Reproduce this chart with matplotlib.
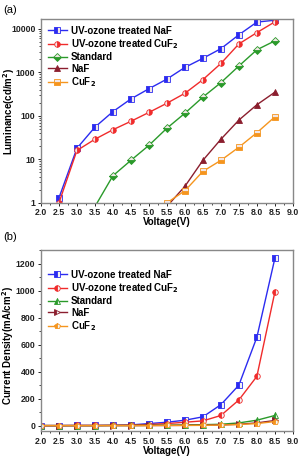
import matplotlib
matplotlib.use('Agg')
import matplotlib.pyplot as plt
from matplotlib.ticker import NullFormatter, MultipleLocator

plt.rcParams['font.family'] = ['Liberation Sans', 'DejaVu Sans']
plt.rcParams['font.weight'] = 'bold'
plt.rcParams['mathtext.default'] = 'bf'

voltage = [2.0, 2.5, 3.0, 3.5, 4.0, 4.5, 5.0, 5.5, 6.0, 6.5, 7.0, 7.5, 8.0, 8.5]
labels = ['UV-ozone treated NaF', 'UV-ozone treated CuF$_2$', 'Standard', 'NaF', 'CuF$_2$']
colors = ['#2b2bf0', '#f02b2b', '#2a9a2a', '#8b1e2e', '#f5951e']

# (a) luminance, starting voltages differ
lum_v = [voltage[1:], voltage[1:], voltage[3:], voltage[7:], voltage[7:]]
lum = [
    [1.3, 18, 55, 125, 245, 420, 700, 1300, 2100, 3500, 7300, 14300, 15800],
    [1.0, 16, 29, 48, 75, 120, 195, 330, 680, 1600, 4500, 8200, 14500],
    [0.82, 4.2, 9.5, 21, 52, 115, 270, 580, 1400, 3300, 5300],
    [0.83, 2.4, 9.5, 29, 80, 180, 350],
    [1.0, 1.9, 5.3, 9.5, 19, 41, 95],
]

# (b) current density
cur = [
    [0, 0, 1, 1, 2, 5, 15, 25, 40, 65, 155, 300, 655, 1240],
    [0, 0, 1, 1, 2, 4, 8, 15, 25, 35, 75, 190, 365, 990],
    [0, 0, 0, 0, 1, 1, 2, 3, 5, 7, 10, 20, 40, 75],
    [0, 0, 0, 0, 0, 0, 1, 1, 2, 3, 5, 10, 20, 38],
    [0, 0, 0, 0, 0, 0, 0, 1, 1, 2, 4, 8, 15, 30],
]

markers_a = ['s', 'o', 'D', '^', 's']
markers_b = ['s', 'o', '^', '>', 'p']
fills_a = ['left', 'right', 'bottom', 'full', 'bottom']

fig = plt.figure(figsize=(3.01, 4.59), dpi=100)
ax1 = fig.add_axes([0.136, 0.558, 0.837, 0.401])
ax2 = fig.add_axes([0.136, 0.061, 0.837, 0.394])

for i in range(5):
    ax1.plot(lum_v[i], lum[i], color=colors[i], lw=1, marker=markers_a[i],
             ms=4, mfc=colors[i], mec=colors[i], mew=0.6, fillstyle=fills_a[i],
             markerfacecoloralt='#f2e6e6', label=labels[i])
    ax2.plot(voltage, cur[i], color=colors[i], lw=1, marker=markers_b[i],
             ms=4, mfc=colors[i], mec=colors[i], mew=0.6, fillstyle='left',
             markerfacecoloralt='#f2f2f2', label=labels[i])

ax1.set_yscale('log')
ax1.set_ylim(1, 17000)
ax1.set_yticks([1, 10, 100, 1000, 10000])
ax1.set_yticklabels(['1', '10', '100', '1000', '10000'])
ax1.yaxis.set_minor_formatter(NullFormatter())
ax1.set_ylabel('Luminance(cd/m$^2$)', fontsize=7, fontweight='bold', va='center')
ax1.yaxis.set_label_coords(-0.126, 0.5)

ax2.set_ylim(-40, 1300)
ax2.set_yticks([0, 200, 400, 600, 800, 1000, 1200])
ax2.yaxis.set_minor_locator(MultipleLocator(100))
ax2.set_ylabel('Current Density(mA/cm$^2$)', fontsize=7, fontweight='bold', va='center')
ax2.yaxis.set_label_coords(-0.129, 0.47)

xt = [2.0, 2.5, 3.0, 3.5, 4.0, 4.5, 5.0, 5.5, 6.0, 6.5, 7.0, 7.5, 8.0, 8.5, 9.0]
for ax in (ax1, ax2):
    ax.set_xlim(2.0, 9.0)
    ax.set_xticks(xt)
    ax.set_xticklabels(['%.1f' % v for v in xt])
    ax.xaxis.set_minor_locator(MultipleLocator(0.25))
    ax.set_xlabel('Voltage(V)', fontsize=7, fontweight='bold', labelpad=0)
    ax.tick_params(labelsize=6.3, length=2.5, width=0.7, pad=1.5, colors='#222222')
    ax.tick_params(which='minor', length=1.5, width=0.5)
    for s in ax.spines.values():
        s.set_color('#888888')
        s.set_linewidth(1)
    ax.legend(loc='upper left', frameon=False, fontsize=7, handlelength=2.0,
              handletextpad=0.4, labelspacing=0.15, borderaxespad=0.3,
              bbox_to_anchor=(0.0, 1.0) if ax is ax1 else (0.0, 0.93))

fig.text(0.01, 0.99, '(a)', fontsize=8, fontweight='normal', va='top')
fig.text(0.01, 0.495, '(b)', fontsize=8, fontweight='normal', va='top')

fig.savefig('out.png', dpi=100)
